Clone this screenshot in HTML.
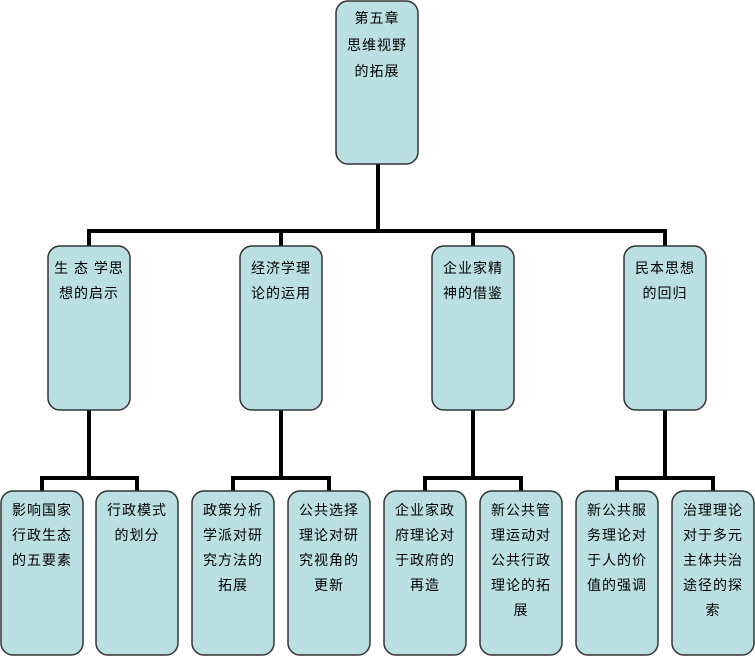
<!DOCTYPE html>
<html><head><meta charset="utf-8"><style>
body{margin:0;background:#fff;width:755px;height:657px;overflow:hidden}
text{font-family:"Liberation Sans","Noto Sans CJK SC",sans-serif;font-size:14px;fill:#000;text-anchor:middle;letter-spacing:1px}
rect{fill:#bae0e4;stroke:#333;stroke-width:1.5}
path{stroke:#000;stroke-width:4;fill:none}
</style></head><body>
<svg width="755" height="657" xmlns="http://www.w3.org/2000/svg">
<path d="M378 164V231M89 246V231H665V246M281 231V246M473 231V246"/>
<path d="M89 410V478H42V491M89 478H137V491"/>
<path d="M281 410V478H233V491M281 478H329V491"/>
<path d="M473 410V478H425V491M473 478H521V491"/>
<path d="M665 410V478H617V491M665 478H713V491"/>
<rect x="336" y="1" width="82" height="163" rx="12"/>
<text x="377" y="23">第五章</text><text x="377" y="50">思维视野</text><text x="377" y="76">的拓展</text>
<rect x="48" y="246" width="82" height="164" rx="12"/>
<rect x="240" y="246" width="82" height="164" rx="12"/>
<rect x="432" y="246" width="82" height="164" rx="12"/>
<rect x="624" y="246" width="82" height="164" rx="12"/>
<text x="89" y="273">生 态 学思</text><text x="89" y="298">想的启示</text>
<text x="281" y="273">经济学理</text><text x="281" y="298">论的运用</text>
<text x="473" y="273">企业家精</text><text x="473" y="298">神的借鉴</text>
<text x="665" y="273">民本思想</text><text x="665" y="298">的回归</text>
<g>
<rect x="1" y="491" width="82" height="164" rx="12"/>
<rect x="96" y="491" width="82" height="164" rx="12"/>
<rect x="192" y="491" width="82" height="164" rx="12"/>
<rect x="288" y="491" width="82" height="164" rx="12"/>
<rect x="384" y="491" width="82" height="164" rx="12"/>
<rect x="480" y="491" width="82" height="164" rx="12"/>
<rect x="576" y="491" width="82" height="164" rx="12"/>
<rect x="672" y="491" width="82" height="164" rx="12"/>
</g>
<text x="42" y="515">影响国家</text><text x="42" y="540">行政生态</text><text x="42" y="565">的五要素</text>
<text x="137" y="515">行政模式</text><text x="137" y="540">的划分</text>
<text x="233" y="515">政策分析</text><text x="233" y="540">学派对研</text><text x="233" y="565">究方法的</text><text x="233" y="590">拓展</text>
<text x="329" y="515">公共选择</text><text x="329" y="540">理论对研</text><text x="329" y="565">究视角的</text><text x="329" y="590">更新</text>
<text x="425" y="515">企业家政</text><text x="425" y="540">府理论对</text><text x="425" y="565">于政府的</text><text x="425" y="590">再造</text>
<text x="521" y="515">新公共管</text><text x="521" y="540">理运动对</text><text x="521" y="565">公共行政</text><text x="521" y="590">理论的拓</text><text x="521" y="615">展</text>
<text x="617" y="515">新公共服</text><text x="617" y="540">务理论对</text><text x="617" y="565">于人的价</text><text x="617" y="590">值的强调</text>
<text x="713" y="515">治理理论</text><text x="713" y="540">对于多元</text><text x="713" y="565">主体共治</text><text x="713" y="590">途径的探</text><text x="713" y="615">索</text>
</svg>
</body></html>
